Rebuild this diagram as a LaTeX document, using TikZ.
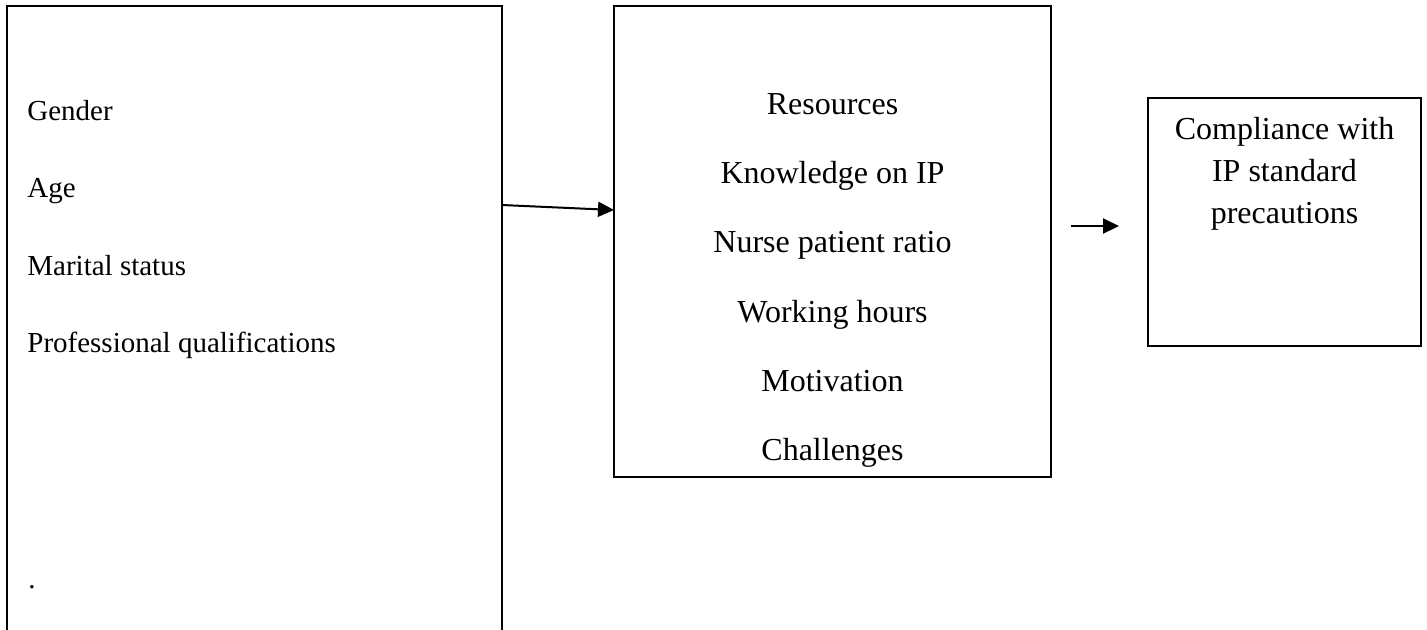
\documentclass[tikz,border=0pt]{standalone}
\usepackage{fontspec}
\setmainfont{Liberation Serif}
\usetikzlibrary{arrows.meta}
\begin{document}
\begin{tikzpicture}[x=0.5pt,y=-0.5pt,
  boxnode/.style={draw,line width=1pt,inner sep=0pt,outer sep=0pt,anchor=north west},
  lefttext/.style={anchor=base west,inner sep=0pt,font=\fontsize{14.5}{17}\selectfont},
  midtext/.style={anchor=base,inner sep=0pt,font=\fontsize{16}{19}\selectfont},
  arr/.style={line width=1pt,-{Triangle[length=8pt,width=7.5pt]}}]
\clip (0,0) rectangle (1427,629);
% boxes
\node[boxnode,minimum width=247.5pt,minimum height=350pt] (L) at (7,6) {};
\node[boxnode,minimum width=218.5pt,minimum height=235.5pt] (M) at (614,6) {};
\node[boxnode,minimum width=136.5pt,minimum height=124pt] (R) at (1148,98) {};
% left texts
\node[lefttext] (t1) at (27,120) {Gender};
\node[lefttext] (t2) at (27,197) {Age};
\node[lefttext] (t3) at (27,275) {Marital status};
\node[lefttext] (t4) at (27,352) {Professional qualifications};
\node[lefttext] (t5) at (28,588) {.};
% middle texts
\node[midtext] (m1) at (832.5,114) {Resources};
\node[midtext] (m2) at (832.5,183) {Knowledge on IP};
\node[midtext] (m3) at (832.5,252) {Nurse patient ratio};
\node[midtext] (m4) at (832.5,322) {Working hours};
\node[midtext] (m5) at (832.5,391) {Motivation};
\node[midtext] (m6) at (832.5,460) {Challenges};
% right texts
\node[midtext] (r1) at (1284.5,139) {Compliance with};
\node[midtext] (r2) at (1284.5,181) {IP standard};
\node[midtext] (r3) at (1284.5,223) {precautions};
% arrows
\draw[arr] ([yshift=-99.5pt]L.north east) -- ([yshift=-102pt]M.north west);
\coordinate (a2s) at (1071,226);
\coordinate (a2e) at (1119,226);
\draw[arr] (a2s) -- (a2e);
\end{tikzpicture}
\end{document}
